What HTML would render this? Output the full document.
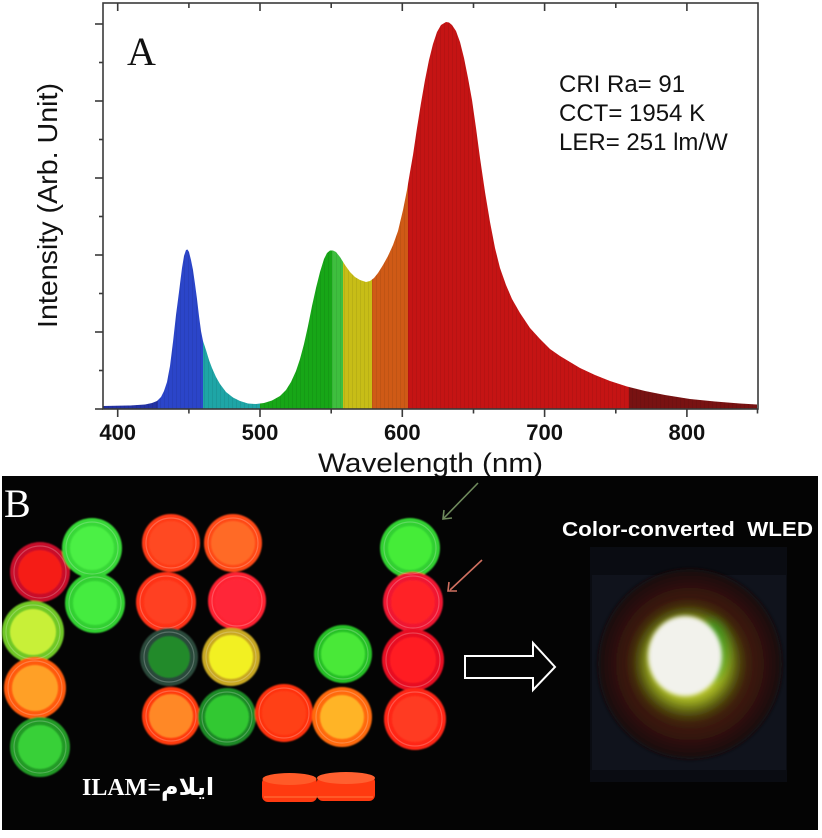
<!DOCTYPE html>
<html>
<head>
<meta charset="utf-8">
<style>
  html,body{margin:0;padding:0;background:#ffffff;}
  svg{display:block;}
</style>
</head>
<body>
<svg width="822" height="838" viewBox="0 0 822 838" xmlns="http://www.w3.org/2000/svg">
  <defs>
    <clipPath id="spec">
      <path d="M103,406 L130,405.5 L145,404.5 L152,403 L157,401 L161,397 L164,391 L167,382 L170,366 L173,342 L176,315 L179,292 L182,268 L184,256 L186,250 L187.5,249.5 L189,252 L191,260 L193,270 L195,284 L197,299 L199,316 L201,331 L203,341 L206,350 L209,360 L212,368 L216,377 L220,384 L226,392 L233,397.5 L240,401 L248,403.5 L256,404 L264,403 L272,400.5 L280,396 L286,390 L291,382 L296,371 L300,359 L304,344 L308,326 L312,306 L316,288 L320,272 L324,259 L327,253 L330,250.5 L333,250.5 L336,252 L340,257 L345,265 L350,272 L355,277 L360,280 L366,282 L370,281 L374,278 L378,273 L383,265 L388,256 L393,245 L398,231 L403,210 L407,190 L410,172 L413,155 L417,128 L421,103 L425,80 L429,60 L433,44 L437,32 L441,25 L446,22 L449,22.5 L452,25 L456,31 L460,42 L464,58 L468,78 L472,100 L476,128 L480,158 L485,192 L490,222 L495,248 L500,268 L506,285 L512,299 L520,313 L530,328 L540,339 L550,349 L560,356 L570,362 L580,368 L595,375 L610,381 L627,386.5 L645,391 L665,395 L690,399 L715,401.5 L740,403.5 L757,404.5 L757,409 L103,409 Z"/>
    </clipPath>
    <pattern id="stripes" width="4" height="10" patternUnits="userSpaceOnUse">
      <rect x="0" y="0" width="1" height="10" fill="#000" fill-opacity="0.07"/>
    </pattern>
    <radialGradient id="ledOuter" cx="50%" cy="50%" r="50%">
      <stop offset="0%" stop-color="#6a5512"/>
      <stop offset="45%" stop-color="#4a2c0c"/>
      <stop offset="75%" stop-color="#361409"/>
      <stop offset="100%" stop-color="#170808"/>
    </radialGradient>
    <radialGradient id="ledGlow" cx="50%" cy="50%" r="50%">
      <stop offset="0%" stop-color="#f0f070"/>
      <stop offset="60%" stop-color="#b8c828"/>
      <stop offset="85%" stop-color="#5a7a10" stop-opacity="0.6"/>
      <stop offset="100%" stop-color="#3a3a08" stop-opacity="0"/>
    </radialGradient>
    <filter id="blur1" x="-20%" y="-20%" width="140%" height="140%">
      <feGaussianBlur stdDeviation="0.8"/>
    </filter>
    <filter id="blur2" x="-20%" y="-20%" width="140%" height="140%">
      <feGaussianBlur stdDeviation="2"/>
    </filter>
    <filter id="blur5" x="-30%" y="-30%" width="160%" height="160%">
      <feGaussianBlur stdDeviation="5"/>
    </filter>
  </defs>

  <!-- ================= PANEL A: spectrum ================= -->
  <g clip-path="url(#spec)">
    <rect x="103" y="0" width="55" height="410" fill="#2332a4"/>
    <rect x="158" y="0" width="45" height="410" fill="#2b45c9"/>
    <rect x="203" y="0" width="57" height="410" fill="#1ea5a6"/>
    <rect x="260" y="0" width="72" height="410" fill="#17a617"/>
    <rect x="332" y="0" width="11" height="410" fill="#3ebf3e"/>
    <rect x="343" y="0" width="29" height="410" fill="#c7bd17"/>
    <rect x="372" y="0" width="36" height="410" fill="#cf5a16"/>
    <rect x="408" y="0" width="221" height="410" fill="#c51414"/>
    <rect x="629" y="0" width="129" height="410" fill="#781212"/>
    <rect x="103" y="0" width="655" height="410" fill="url(#stripes)"/>
  </g>

  <!-- frame -->
  <rect x="103" y="3" width="655" height="406" fill="none" stroke="#3a3a3a" stroke-width="1.6"/>

  <g stroke="#3a3a3a" stroke-width="1.6">
    <line x1="117.7" y1="409" x2="117.7" y2="417"/>
    <line x1="260" y1="409" x2="260" y2="417"/>
    <line x1="402.3" y1="409" x2="402.3" y2="417"/>
    <line x1="544.6" y1="409" x2="544.6" y2="417"/>
    <line x1="686.9" y1="409" x2="686.9" y2="417"/>
    <line x1="188.9" y1="409" x2="188.9" y2="413.5"/>
    <line x1="331.2" y1="409" x2="331.2" y2="413.5"/>
    <line x1="473.5" y1="409" x2="473.5" y2="413.5"/>
    <line x1="615.8" y1="409" x2="615.8" y2="413.5"/>
    <line x1="757.5" y1="409" x2="757.5" y2="413.5"/>
    <line x1="117.7" y1="3" x2="117.7" y2="11"/>
    <line x1="260" y1="3" x2="260" y2="11"/>
    <line x1="402.3" y1="3" x2="402.3" y2="11"/>
    <line x1="544.6" y1="3" x2="544.6" y2="11"/>
    <line x1="686.9" y1="3" x2="686.9" y2="11"/>
    <line x1="188.9" y1="3" x2="188.9" y2="8"/>
    <line x1="331.2" y1="3" x2="331.2" y2="8"/>
    <line x1="473.5" y1="3" x2="473.5" y2="8"/>
    <line x1="615.8" y1="3" x2="615.8" y2="8"/>
    <line x1="95" y1="409" x2="103" y2="409"/>
    <line x1="95" y1="332" x2="103" y2="332"/>
    <line x1="95" y1="255" x2="103" y2="255"/>
    <line x1="95" y1="178" x2="103" y2="178"/>
    <line x1="95" y1="101" x2="103" y2="101"/>
    <line x1="95" y1="24" x2="103" y2="24"/>
    <line x1="99" y1="370.5" x2="103" y2="370.5"/>
    <line x1="99" y1="293.5" x2="103" y2="293.5"/>
    <line x1="99" y1="216.5" x2="103" y2="216.5"/>
    <line x1="99" y1="139.5" x2="103" y2="139.5"/>
    <line x1="99" y1="62.5" x2="103" y2="62.5"/>
  </g>

  <g font-family="Liberation Sans, Arial, sans-serif" font-weight="bold" font-size="22" fill="#111" text-anchor="middle">
    <text x="117.7" y="440">400</text>
    <text x="260" y="440">500</text>
    <text x="402.3" y="440">600</text>
    <text x="544.6" y="440">700</text>
    <text x="686.9" y="440">800</text>
  </g>

  <text x="318" y="472" font-family="Liberation Sans, Arial, sans-serif" font-size="27" fill="#111" textLength="225" lengthAdjust="spacingAndGlyphs">Wavelength (nm)</text>
  <text transform="translate(57,328) rotate(-90)" x="0" y="0" font-family="Liberation Sans, Arial, sans-serif" font-size="28" fill="#111" textLength="245" lengthAdjust="spacingAndGlyphs">Intensity (Arb. Unit)</text>

  <text x="127" y="65" font-family="Liberation Serif, Times New Roman, serif" font-size="40" fill="#111">A</text>

  <g font-family="Liberation Sans, Arial, sans-serif" font-size="24" fill="#111">
    <text x="559" y="92">CRI Ra= 91</text>
    <text x="559" y="121">CCT= 1954 K</text>
    <text x="559" y="150">LER= 251 lm/W</text>
  </g>

  <!-- ================= PANEL B: photo ================= -->
  <rect x="2" y="476" width="816" height="354" fill="#040404"/>

  <text x="4" y="517" font-family="Liberation Serif, Times New Roman, serif" font-size="40" fill="#ffffff">B</text>

  <!-- vials: outer ring -->
  <g filter="url(#blur1)">
    <circle cx="40" cy="572" r="30" fill="#c8102a"/>
    <circle cx="92" cy="548" r="30" fill="#38d838"/>
    <circle cx="95" cy="603" r="30" fill="#30d030"/>
    <circle cx="33" cy="632" r="31" fill="#70c828"/>
    <circle cx="35" cy="688" r="31" fill="#ff5a10"/>
    <circle cx="40" cy="747" r="30" fill="#209a28"/>
    <circle cx="171" cy="543" r="29" fill="#ff3a18"/>
    <circle cx="233" cy="543" r="29" fill="#ff4a18"/>
    <circle cx="166" cy="602" r="30" fill="#ff3218"/>
    <circle cx="237" cy="601" r="29" fill="#ff2030"/>
    <circle cx="169" cy="657" r="29" fill="#2a4a3a"/>
    <circle cx="231" cy="657" r="29" fill="#c8a820"/>
    <circle cx="171" cy="716" r="29" fill="#ff3a10"/>
    <circle cx="227" cy="717" r="29" fill="#1f8a28"/>
    <circle cx="284" cy="713" r="29" fill="#ff3010"/>
    <circle cx="342" cy="717" r="30" fill="#ff6a10"/>
    <circle cx="343" cy="654" r="29" fill="#28c028"/>
    <circle cx="410" cy="548" r="30" fill="#30d030"/>
    <circle cx="413" cy="602" r="30" fill="#f01830"/>
    <circle cx="413" cy="660" r="31" fill="#e81020"/>
    <circle cx="415" cy="719" r="31" fill="#ff2818"/>
  </g>
  <!-- vials: inner disks -->
  <g filter="url(#blur1)">
    <circle cx="40" cy="572" r="22" fill="#f51a14"/>
    <circle cx="92" cy="548" r="22" fill="#4cf044"/>
    <circle cx="95" cy="603" r="22" fill="#44ec40"/>
    <circle cx="33" cy="632" r="23" fill="#c8f038"/>
    <circle cx="35" cy="688" r="23" fill="#ffa028"/>
    <circle cx="40" cy="747" r="22" fill="#38d038"/>
    <circle cx="171" cy="543" r="22" fill="#ff4a20"/>
    <circle cx="233" cy="543" r="22" fill="#ff6a28"/>
    <circle cx="166" cy="602" r="22" fill="#ff4020"/>
    <circle cx="237" cy="601" r="22" fill="#ff2838"/>
    <circle cx="169" cy="657" r="21" fill="#208a2a"/>
    <circle cx="231" cy="657" r="22" fill="#f2f020"/>
    <circle cx="171" cy="716" r="22" fill="#ff8828"/>
    <circle cx="227" cy="717" r="22" fill="#30c830"/>
    <circle cx="284" cy="713" r="22" fill="#ff4018"/>
    <circle cx="342" cy="717" r="22" fill="#ffb428"/>
    <circle cx="343" cy="654" r="22" fill="#48e838"/>
    <circle cx="410" cy="548" r="22" fill="#44ec38"/>
    <circle cx="413" cy="602" r="22" fill="#ff2028"/>
    <circle cx="413" cy="660" r="23" fill="#ff1a20"/>
    <circle cx="415" cy="719" r="23" fill="#ff3a20"/>
  </g>
  <!-- vials: ring highlights -->
  <g fill="none" stroke="#ffffff" stroke-opacity="0.22" stroke-width="1.2">
    <circle cx="40" cy="572" r="26"/>
    <circle cx="92" cy="548" r="26"/>
    <circle cx="95" cy="603" r="26"/>
    <circle cx="33" cy="632" r="27"/>
    <circle cx="35" cy="688" r="27"/>
    <circle cx="40" cy="747" r="26"/>
    <circle cx="171" cy="543" r="25"/>
    <circle cx="233" cy="543" r="25"/>
    <circle cx="166" cy="602" r="26"/>
    <circle cx="237" cy="601" r="25"/>
    <circle cx="169" cy="657" r="25"/>
    <circle cx="231" cy="657" r="25"/>
    <circle cx="171" cy="716" r="25"/>
    <circle cx="227" cy="717" r="25"/>
    <circle cx="284" cy="713" r="25"/>
    <circle cx="342" cy="717" r="26"/>
    <circle cx="343" cy="654" r="25"/>
    <circle cx="410" cy="548" r="26"/>
    <circle cx="413" cy="602" r="26"/>
    <circle cx="413" cy="660" r="27"/>
    <circle cx="415" cy="719" r="27"/>
  </g>

  <!-- flat vials -->
  <g>
    <rect x="262" y="777" width="55" height="25" rx="6" fill="#ff3a10"/>
    <ellipse cx="289.5" cy="779" rx="27" ry="6" fill="#ff5a28"/>
    <rect x="317" y="776" width="58" height="25" rx="6" fill="#ff3a10"/>
    <ellipse cx="346" cy="778" rx="29" ry="6" fill="#ff6030"/>
    <line x1="264" y1="797" x2="373" y2="797" stroke="#ff7a40" stroke-width="1"/>
  </g>

  <text x="82" y="795" font-family="Liberation Serif, DejaVu Serif, DejaVu Sans, serif" font-weight="bold" font-size="24" fill="#ffffff">ILAM=ایلام</text>

  <g stroke-width="1.6" fill="none">
    <line x1="478" y1="483" x2="444" y2="518" stroke="#6f8a5c"/>
    <polyline points="444,510 443,519 452,518" stroke="#6f8a5c"/>
    <line x1="482" y1="560" x2="450" y2="590" stroke="#d07060"/>
    <polyline points="449,582 448,591 457,591" stroke="#d07060"/>
  </g>

  <polygon points="465,656 533,656 533,643 555,667 533,690 533,678 465,678" fill="none" stroke="#ffffff" stroke-width="2"/>

  <text x="562" y="536" xml:space="preserve" font-family="Liberation Sans, Arial, sans-serif" font-weight="bold" font-size="20" fill="#ffffff" textLength="251" lengthAdjust="spacingAndGlyphs">Color-converted  WLED</text>

  <!-- LED photo -->
  <rect x="590" y="547" width="197" height="235" fill="#0a0c12"/>
  <rect x="592" y="575" width="194" height="195" fill="#10131c"/>
  <ellipse cx="690" cy="664" rx="92" ry="95" fill="url(#ledOuter)" filter="url(#blur2)"/>
  <ellipse cx="688" cy="662" rx="58" ry="60" fill="url(#ledGlow)" filter="url(#blur5)"/>
  <ellipse cx="712" cy="650" rx="16" ry="30" fill="#2a9a20" opacity="0.7" filter="url(#blur5)"/>
  <ellipse cx="685" cy="656" rx="37" ry="40" fill="#f2f2ec" filter="url(#blur2)"/>
</svg>
</body>
</html>
